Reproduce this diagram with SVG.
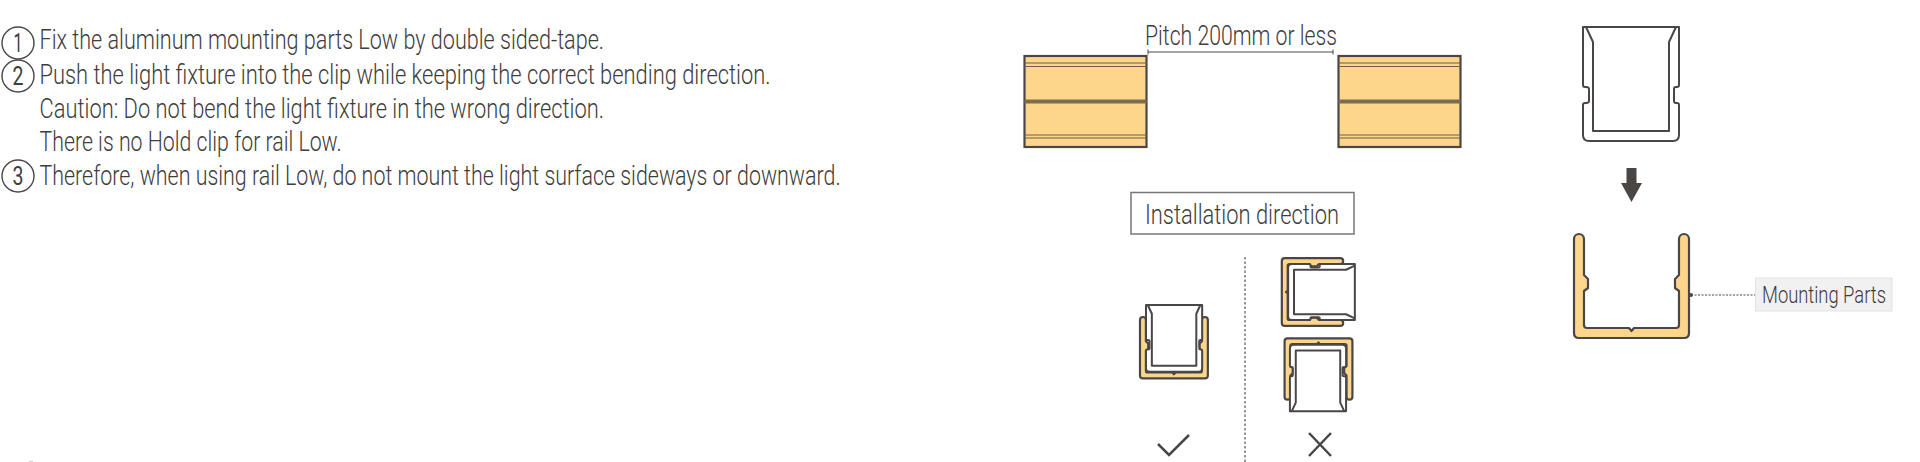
<svg xmlns="http://www.w3.org/2000/svg" xmlns:xlink="http://www.w3.org/1999/xlink" width="1920" height="462" viewBox="0 0 1920 462">
<style>
.t{font-family:Roboto,"Liberation Sans",sans-serif;font-weight:300;fill:#403c3c;font-size:27px}
.l{font-size:28px}
.n{font-family:Roboto,"Liberation Sans",sans-serif;font-weight:400;fill:#403c3c;font-size:25px;text-anchor:middle}
.ln{fill:none;stroke:#4a4646;stroke-width:2;stroke-linejoin:round;vector-effect:non-scaling-stroke}
.u{fill:#fdd68b;stroke:#4a4646;stroke-width:2.200;stroke-linejoin:round;vector-effect:non-scaling-stroke}
.f{fill:#fff;stroke:#4a4646;stroke-width:2;stroke-linejoin:round;vector-effect:non-scaling-stroke}
.c{fill:#fff;stroke:#4a4646;stroke-width:1.400}
.thin{stroke:#6b5f4d;stroke-width:1.200;fill:none}
.mark{fill:none;stroke:#4a4646;stroke-width:2.500}
</style>
<defs>
<g id="rail">
<rect x="0" y="0" width="122" height="91" fill="#fdd68b" stroke="#4a4646" stroke-width="2.200"/>
<path class="thin" d="M0 7H122M0 10.500H122M0 79H122M0 82H122"/>
<rect x="0" y="43.500" width="122" height="4" fill="#7d6c4e"/>
</g>
<path id="clip" class="u" d="M1574 239a5 5 0 0 1 10 0V275l4 4V288l-4 3V325q0 3 3 3H1629l2.500 3 2.500-3H1676q3 0 3-3V291l-4-3V279l4-4V239a5 5 0 0 1 10 0V333q0 5-5 5H1579q-5 0-5-5Z"/>
<g id="fixture">
<path class="f" d="M1583 27H1679V85q0 2-2 2h-1q-2 0-2 2V101q0 2 2 2h1q2 0 2 2V135q0 6-6 6H1589q-6 0-6-6V105q0-2 2-2h1q3 0 3-2V89q0-2-3-2h-1q-2 0-2-2Z"/>
<path class="ln" d="M1586 27L1593 42V131H1669V42L1676 27"/>
</g>
</defs>

<g id="connectors">
<path d="M1148 52H1333" stroke="#4a4646" stroke-width="1" fill="none"/>
<path d="M1148 49.500V54.500M1333 49.500V54.500" stroke="#4a4646" stroke-width="1" fill="none"/>
<path d="M1245 257V462" stroke="#777" stroke-width="1.500" stroke-dasharray="2.500 2" fill="none"/>
<path d="M1691 295H1755" stroke="#4a4646" stroke-width="1.200" stroke-dasharray="2 1.500" fill="none"/>
<circle cx="1691" cy="295" r="2" fill="#4a4646"/>
</g>

<g id="steps">
<circle class="c" cx="18" cy="43" r="16"/><text class="n" x="18" y="52" textLength="9" lengthAdjust="spacingAndGlyphs">1</text>
<circle class="c" cx="18" cy="76" r="16"/><text class="n" x="18" y="85" textLength="11" lengthAdjust="spacingAndGlyphs">2</text>
<circle class="c" cx="18" cy="176" r="16"/><text class="n" x="18" y="185" textLength="11" lengthAdjust="spacingAndGlyphs">3</text>
<text class="t" x="39.500" y="49" textLength="564.500" lengthAdjust="spacingAndGlyphs">Fix the aluminum mounting parts Low by double sided-tape.</text>
<text class="t" x="39.500" y="84" textLength="731" lengthAdjust="spacingAndGlyphs">Push the light fixture into the clip while keeping the correct bending direction.</text>
<text class="t" x="39.500" y="118" textLength="564.500" lengthAdjust="spacingAndGlyphs">Caution: Do not bend the light fixture in the wrong direction.</text>
<text class="t" x="39.500" y="151" textLength="302" lengthAdjust="spacingAndGlyphs">There is no Hold clip for rail Low.</text>
<text class="t" x="39.500" y="185" textLength="801" lengthAdjust="spacingAndGlyphs">Therefore, when using rail Low, do not mount the light surface sideways or downward.</text>
</g>

<g id="rail-left"><use xlink:href="#rail" href="#rail" x="1024.500" y="56"/></g>
<g id="rail-right"><use xlink:href="#rail" href="#rail" x="1338.500" y="56"/></g>
<g id="pitch-label"><text class="t l" x="1145" y="45" textLength="192" lengthAdjust="spacingAndGlyphs">Pitch 200mm or less</text></g>

<g id="direction-label">
<rect x="1131" y="192.500" width="223" height="41.500" fill="#fff" stroke="#777" stroke-width="1.500"/>
<text class="t l" x="1145" y="223.500" textLength="194" lengthAdjust="spacingAndGlyphs">Installation direction</text>
</g>

<g id="correct">
<use xlink:href="#clip" href="#clip" transform="translate(1140 317) scale(.59) translate(-1574 -234)"/>
<use xlink:href="#fixture" href="#fixture" transform="translate(1146 305) scale(.585) translate(-1583 -27)"/>
<path class="mark" d="M1158 444L1169 455L1189 435"/>
</g>

<g id="wrong-side">
<use xlink:href="#clip" href="#clip" transform="translate(1312.500 292) rotate(90) scale(.59) translate(-1631.500 -286)"/>
<use xlink:href="#fixture" href="#fixture" transform="translate(1321.500 292) rotate(90) scale(.585) translate(-1631 -84)"/>
</g>
<g id="wrong-down">
<use xlink:href="#clip" href="#clip" transform="translate(1318.500 369) rotate(180) scale(.59) translate(-1631.500 -286)"/>
<use xlink:href="#fixture" href="#fixture" transform="translate(1318 378) rotate(180) scale(.585) translate(-1631 -84)"/>
<path class="mark" d="M1309 433L1331 456M1331 433L1309 456"/>
</g>

<g id="fixture-large"><use xlink:href="#fixture" href="#fixture"/></g>
<g id="arrow"><path d="M1626.500 168H1636.500V183H1642L1631.500 202L1621 183H1626.500Z" fill="#4a4646"/></g>
<g id="clip-large"><use xlink:href="#clip" href="#clip"/></g>

<g id="mounting-parts">
<rect x="1755.500" y="278" width="136.500" height="33" fill="#f0f1f0" stroke="#e2e3e2" stroke-width="1"/>
<text class="t" x="1762" y="303" style="font-size:23px" textLength="124" lengthAdjust="spacingAndGlyphs">Mounting Parts</text>
</g>
<rect id="speck" x="29" y="461" width="4" height="1" fill="#ccc"/>
</svg>
